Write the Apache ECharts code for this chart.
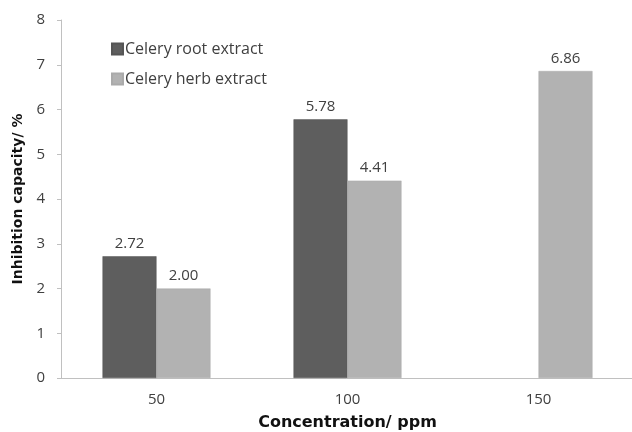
<!DOCTYPE html>
<html><head><meta charset="utf-8">
<script src="https://cdn.jsdelivr.net/npm/echarts@6/dist/echarts.min.js"></script>
<style>html,body{margin:0;padding:0;background:#fff}#c{width:632px;height:432px}</style>
</head><body><div id="c"></div>
<script>
const categories = ['50', '100', '150'];
const rootValues = [2.72, 5.78, null];
const herbValues = [2.00, 4.41, 6.86];
const seriesNames = ['Celery root extract', 'Celery herb extract'];
const FONT = '"Open Sans", "DejaVu Sans", sans-serif';
const BOLD = '"DejaVu Sans", sans-serif';
const chart = echarts.init(document.getElementById('c'));
const lbl = {show: true, position: 'top', distance: 5, color: '#404040', fontSize: 15, fontFamily: FONT, formatter: p => p.value == null ? '' : p.value.toFixed(2)};
chart.setOption({
  animation: false,
  backgroundColor: '#fff',
  grid: {left: 61, top: 20, width: 573, height: 358, containLabel: false, outerBoundsMode: 'none'},
  legend: {
    orient: 'vertical', left: 106, top: 36, itemGap: 14, itemWidth: 11, itemHeight: 11,
    icon: 'rect', textStyle: {fontSize: 16, color: '#404040', fontFamily: FONT, padding: [0,0,0,-3]},
    data: seriesNames
  },
  xAxis: {
    type: 'category', data: categories,
    axisLine: {lineStyle: {color: '#c0c0c0', width: 1}},
    axisTick: {show: false},
    axisLabel: {color: '#404040', fontSize: 15, fontFamily: FONT, margin: 14},
    name: 'Concentration/ ppm', nameLocation: 'middle', nameGap: 37,
    nameTextStyle: {fontWeight: 'bold', fontSize: 16, color: '#111', fontFamily: BOLD}
  },
  yAxis: {
    type: 'value', min: 0, max: 8, interval: 1,
    axisLine: {show: true, lineStyle: {color: '#c0c0c0', width: 1}},
    axisTick: {show: true, length: 4, lineStyle: {color: '#c0c0c0'}},
    splitLine: {show: false},
    axisLabel: {color: '#404040', fontSize: 15, fontFamily: FONT, margin: 16},
    name: 'Inhibition capacity/ %', nameLocation: 'middle', nameGap: 31,
    nameTextStyle: {fontWeight: 'bold', fontSize: 14, color: '#111', fontFamily: BOLD}
  },
  series: [
    {name: seriesNames[0], type: 'bar', data: rootValues, barWidth: 54, barGap: '0%',
     itemStyle: {color: '#5e5e5e', borderColor: '#555', borderWidth: 0.5}, label: lbl},
    {name: seriesNames[1], type: 'bar', data: herbValues, barWidth: 54, barGap: '0%',
     itemStyle: {color: '#b2b2b2', borderColor: '#aaa', borderWidth: 0.5}, label: lbl}
  ]
});
</script></body></html>
